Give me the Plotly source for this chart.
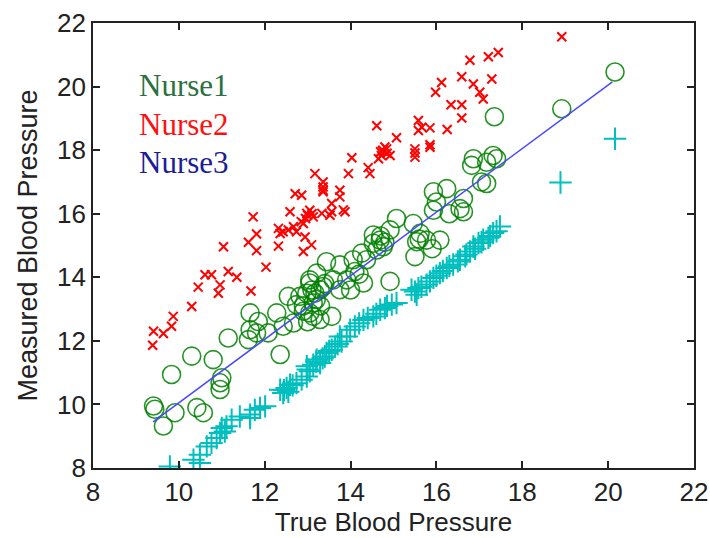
import plotly.graph_objects as go

# Nurse1: measured vs true blood pressure (open circles)
nurse1_true = [9.41, 9.44, 9.64, 9.91, 9.83, 10.30, 10.80, 11.00, 10.96, 10.96, 10.42, 10.57,
               11.15, 11.66, 11.62, 11.85, 11.81, 11.66, 12.08, 12.36, 12.28, 12.55, 12.74, 12.43,
               12.67, 12.90, 13.13, 13.29, 12.98, 13.29, 13.56, 13.05, 14.92, 14.30, 14.69, 14.53,
               14.76, 14.61, 14.92, 15.07, 15.46, 15.62, 15.54, 15.50, 15.77, 16.08, 15.93, 16.24,
               16.00, 15.93, 16.63, 16.55, 16.63, 16.86, 16.82, 17.17, 17.32, 17.40, 17.05, 17.17,
               13.44, 13.75, 14.06, 14.26, 14.37, 14.10, 13.91, 14.53, 13.21, 13.05, 12.82, 13.17,
               13.13, 13.05, 13.75, 13.60, 13.36, 13.10, 13.20, 13.40, 12.90, 13.30, 13.00, 14.00,
               14.20, 14.80, 14.70, 15.60, 15.90, 16.30, 17.35, 18.92, 20.16]
nurse1_meas = [9.95, 9.85, 9.32, 9.74, 10.94, 11.52, 11.41, 10.84, 10.68, 10.47, 9.90, 9.74,
               12.09, 12.35, 12.04, 12.61, 12.25, 12.88, 12.25, 11.57, 12.88, 13.40, 13.14, 12.46,
               12.56, 12.93, 12.77, 12.67, 13.50, 13.61, 12.77, 13.92, 13.87, 13.82, 15.17, 15.07,
               14.96, 14.86, 15.49, 15.85, 15.69, 15.38, 15.12, 14.65, 15.17, 15.17, 16.69, 16.79,
               16.37, 16.11, 16.48, 16.16, 16.06, 17.73, 17.52, 17.62, 17.83, 17.73, 17.00, 16.95,
               14.49, 14.39, 14.55, 14.76, 14.55, 14.18, 13.92, 15.33, 14.13, 13.82, 13.40, 13.50,
               13.19, 12.88, 13.61, 13.92, 13.71, 13.60, 13.30, 13.80, 13.10, 13.10, 12.60, 13.60,
               14.10, 15.10, 15.30, 15.20, 14.90, 16.00, 19.05, 19.30, 20.46]

# Nurse2: consistently reads high (x markers)
nurse2_true = [9.39, 9.41, 9.64, 9.83, 9.87, 10.30, 10.45, 10.61, 10.76, 10.96, 10.92, 11.15,
               11.35, 11.68, 11.04, 11.73, 11.81, 11.62, 11.81, 12.03, 12.32, 12.32, 12.43, 12.55,
               12.67, 12.74, 12.90, 12.98, 13.05, 13.13, 13.33, 13.56, 12.59, 12.71, 12.86, 13.36,
               13.36, 12.90, 13.09, 12.94, 12.36, 18.92, 16.78, 17.21, 17.44, 16.59, 16.12, 15.98,
               16.86, 17.29, 17.01, 17.09, 16.34, 16.59, 16.59, 16.25, 14.61, 15.58, 15.66, 15.58,
               15.85, 15.07, 15.85, 15.50, 15.50, 14.84, 14.72, 14.92, 14.65, 14.03, 14.41, 13.95,
               14.45, 13.17, 13.36, 13.36, 13.75, 13.75, 13.56, 13.87, 13.52, 13.83, 14.76, 15.50,
               15.85, 14.75, 14.85, 14.80, 14.70, 12.95, 13.00, 13.10, 12.85]
nurse2_meas = [11.86, 12.30, 12.23, 12.46, 12.77, 13.08, 13.69, 14.08, 14.08, 13.76, 13.50, 14.18,
               14.00, 13.57, 14.96, 15.90, 15.36, 15.10, 14.84, 14.32, 14.98, 15.54, 15.43, 15.49,
               15.59, 15.43, 15.69, 16.01, 16.11, 15.90, 16.01, 16.06, 16.06, 16.63, 16.58, 16.84,
               16.69, 14.81, 15.02, 15.27, 15.38, 21.57, 20.83, 20.94, 21.07, 20.31, 20.13, 19.82,
               20.08, 20.24, 19.82, 19.61, 19.43, 19.43, 19.01, 18.65, 18.77, 18.93, 18.72, 18.62,
               18.70, 18.39, 18.09, 18.04, 17.78, 18.04, 17.83, 17.83, 17.73, 17.76, 17.45, 17.26,
               17.26, 17.26, 17.00, 16.74, 16.74, 16.53, 16.32, 16.06, 15.95, 16.12, 17.96, 17.91,
               18.17, 18.00, 17.90, 18.10, 17.95, 15.85, 15.95, 16.00, 15.75]

# Nurse3: consistently reads low (+ markers)
nurse3_true = [9.79, 10.34, 10.49, 10.49, 10.65, 10.76, 10.88, 10.96, 11.07, 11.00, 11.11, 11.23,
               11.42, 11.66, 11.66, 11.77, 11.89, 12.01, 12.36, 12.51, 12.59, 12.43, 12.74, 12.86,
               12.98, 13.05, 12.98, 13.13, 13.21, 13.29, 13.40, 13.44, 13.56, 13.64, 13.79, 13.91,
               13.75, 13.99, 14.30, 14.53, 14.69, 14.80, 14.96, 15.07, 15.42, 15.58, 15.54, 15.77,
               15.85, 15.93, 16.08, 16.24, 16.39, 16.55, 16.67, 16.78, 16.86, 16.98, 17.09, 17.21,
               17.32, 17.48, 18.89, 20.16, 13.00, 13.20, 13.35, 13.50, 13.70, 12.65, 12.45, 12.55,
               14.10, 14.20, 14.40, 14.60, 14.85, 15.50, 15.65, 16.00, 16.15, 16.30, 16.50, 16.70,
               16.90, 17.05, 17.25, 17.40]
nurse3_meas = [8.05, 8.26, 8.42, 8.16, 8.68, 8.79, 8.94, 9.10, 9.15, 9.26, 9.31, 9.52,
               9.62, 9.68, 9.57, 9.83, 9.89, 9.94, 10.46, 10.52, 10.62, 10.36, 10.67, 10.78,
               10.88, 11.04, 11.20, 11.25, 11.41, 11.30, 11.51, 11.62, 11.72, 11.82, 11.98, 12.14,
               12.14, 12.35, 12.66, 12.77, 12.98, 13.03, 13.14, 13.19, 13.61, 13.66, 13.45, 13.77,
               13.87, 13.98, 14.13, 14.29, 14.40, 14.55, 14.66, 14.81, 14.97, 15.08, 15.18, 15.24,
               15.39, 15.60, 16.98, 18.36, 11.10, 11.35, 11.45, 11.68, 11.90, 10.60, 10.45, 10.40,
               12.45, 12.55, 12.72, 12.85, 13.10, 13.55, 13.70, 14.05, 14.20, 14.35, 14.50, 14.72,
               14.90, 15.10, 15.30, 15.45]

# Fitted reference line (endpoints)
fit_true = [9.40, 20.10]
fit_meas = [9.45, 20.15]

# Text labels
label_names = ["Nurse1", "Nurse2", "Nurse3"]
label_colors = ["#2a7040", "#ff1010", "#1c1c96"]
label_y = [20.02, 18.82, 17.62]

fig = go.Figure()
fig.add_trace(go.Scatter(
    x=nurse1_true, y=nurse1_meas, mode="markers", name="Nurse1",
    marker=dict(symbol="circle-open", size=18, color="rgba(0,128,0,0.85)",
                line=dict(width=1.6, color="rgba(0,128,0,0.85)"))))
fig.add_trace(go.Scatter(
    x=nurse2_true, y=nurse2_meas, mode="markers", name="Nurse2",
    marker=dict(symbol="x-thin", size=9, color="#ff0000",
                line=dict(width=2, color="#ff0000"))))
fig.add_trace(go.Scatter(
    x=nurse3_true, y=nurse3_meas, mode="markers", name="Nurse3",
    marker=dict(symbol="cross-thin", size=16, color="#00bfbf",
                line=dict(width=2, color="#00bfbf"))))
fig.add_trace(go.Scatter(
    x=fit_true, y=fit_meas, mode="lines", name="fit",
    line=dict(color="#4848ff", width=1.5)))

for name, color, yv in zip(label_names, label_colors, label_y):
    fig.add_annotation(x=9.02, y=yv, xref="x", yref="y", text=name, showarrow=False,
                       xanchor="left", yanchor="middle",
                       font=dict(family="Liberation Serif, Times New Roman, serif",
                                 size=31, color=color))

axis_common = dict(
    range=[8, 22], dtick=2, ticks="inside", ticklen=7, tickwidth=1.5, tickcolor="#222",
    showline=True, linecolor="#222", linewidth=1.8, mirror="ticks",
    showgrid=False, zeroline=False, automargin=False,
    tickfont=dict(family="Liberation Sans, Arial, sans-serif", size=26, color="#222"),
)

fig.update_layout(
    width=710, height=538,
    margin=dict(l=93, r=16, t=23, b=70),
    paper_bgcolor="white", plot_bgcolor="white",
    showlegend=False,
    xaxis=dict(**axis_common,
               title=dict(text="True Blood Pressure", standoff=6,
                          font=dict(family="Liberation Sans, Arial, sans-serif", size=26, color="#222"))),
    yaxis=dict(**axis_common,
               title=dict(text="Measured Blood Pressure", standoff=12,
                          font=dict(family="Liberation Sans, Arial, sans-serif", size=27, color="#222"))),
)

fig.write_html("out.html")
